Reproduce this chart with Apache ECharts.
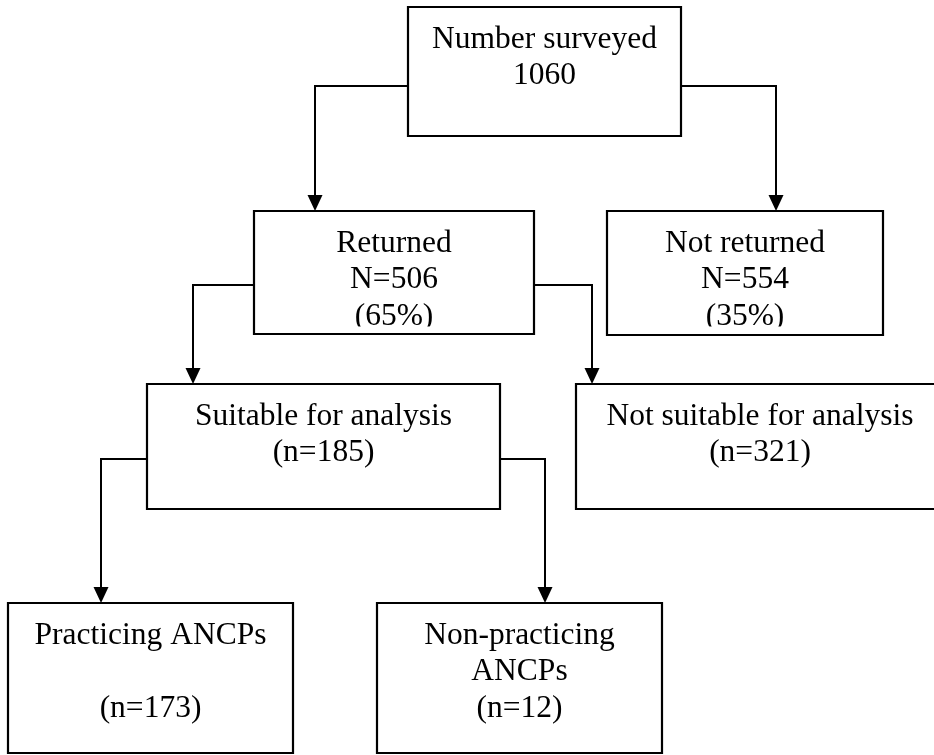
<!DOCTYPE html>
<html>
<head>
<meta charset="utf-8">
<script src="https://cdn.jsdelivr.net/npm/echarts@6/dist/echarts.min.js"></script>
<style>
html,body{margin:0;padding:0;background:#ffffff;}
#chart{width:934px;height:755px;}
</style>
</head>
<body>
<div id="chart"></div>
<script>
// ---- data ----
const stageNames = ['Number surveyed', 'Returned', 'Not returned', 'Suitable for analysis',
  'Not suitable for analysis', 'Practicing ANCPs', 'Non-practicing\nANCPs'];
const stageCounts = [1060, 506, 554, 185, 321, 173, 12];
const stagePercents = [null, 65, 35, null, null, null, null];
const countStyle = ['plain', 'N', 'N', 'n', 'n', 'n', 'n'];
const flowLinks = [[0, 1], [0, 2], [1, 3], [1, 4], [3, 5], [3, 6]];

// ---- layout (positions / sizes, separate from data) ----
const boxLayout = [
  [408, 7, 681, 136],
  [254, 211, 534, 334],
  [607, 211, 883, 335],
  [147, 384, 500, 509],
  [576, 384, 944, 509],
  [8, 603, 293, 753],
  [377, 603, 662, 753]
];
const blankLinesBeforeCount = [0, 0, 0, 0, 0, 1, 0];
const textClipY = [null, 326.5, 326.5, null, null, null, null];
// link route: [exit x, exit y, drop x]
const linkRoutes = [
  [408, 86, 315],
  [681, 86, 776],
  [254, 285, 193],
  [530, 285, 592],
  [147, 459, 101],
  [500, 459, 545]
];
const FONT_SIZE = 31.5;
const FIRST_BASELINE = 40.8;
const LINE_GAP = 36.6;
const FONT = FONT_SIZE + 'px "Liberation Serif", "Times New Roman", serif';

function stageLines(i) {
  const lines = stageNames[i].split('\n');
  for (let k = 0; k < blankLinesBeforeCount[i]; k++) lines.push('');
  const c = stageCounts[i];
  if (countStyle[i] === 'plain') lines.push(String(c));
  else if (countStyle[i] === 'N') lines.push('N=' + c);
  else lines.push('(n=' + c + ')');
  if (stagePercents[i] != null) lines.push('(' + stagePercents[i] + '%)');
  return lines;
}

const chart = echarts.init(document.getElementById('chart'), null, {renderer: 'canvas'});

const option = {
  animation: false,
  backgroundColor: '#ffffff',
  grid: {left: 0, right: 0, top: 0, bottom: 0},
  xAxis: {type: 'value', min: 0, max: 934, show: false},
  yAxis: {type: 'value', min: 0, max: 755, inverse: true, show: false},
  series: [
    {
      type: 'custom',
      name: 'links',
      coordinateSystem: 'cartesian2d',
      silent: true,
      clip: false,
      data: flowLinks.map((l, i) => [i, l[0], l[1]]),
      renderItem: function (params, api) {
        const i = api.value(0);
        const target = api.value(2);
        const r = linkRoutes[i];
        const top = boxLayout[target][1];
        const a = api.coord([r[0], r[1]]);
        const b = api.coord([r[2], r[1]]);
        const tip = api.coord([r[2], top]);
        const ah = 16, aw = 7.5;
        return {
          type: 'group',
          children: [
            {
              type: 'polyline',
              shape: {points: [a, b, [tip[0], tip[1] - ah + 1]]},
              style: {stroke: '#000', lineWidth: 2, fill: null}
            },
            {
              type: 'polygon',
              shape: {points: [[tip[0] - aw, tip[1] - ah], [tip[0] + aw, tip[1] - ah], [tip[0], tip[1]]]},
              style: {fill: '#000', stroke: null}
            }
          ]
        };
      }
    },
    {
      type: 'custom',
      name: 'stages',
      coordinateSystem: 'cartesian2d',
      silent: true,
      clip: false,
      data: stageNames.map((n, i) => [i, stageCounts[i]]),
      renderItem: function (params, api) {
        const i = api.value(0);
        const b = boxLayout[i];
        const p0 = api.coord([b[0], b[1]]);
        const p1 = api.coord([b[2], b[3]]);
        const cx = (p0[0] + p1[0]) / 2;
        const children = [];
        children.push({
          type: 'rect',
          shape: {x: p0[0], y: p0[1], width: p1[0] - p0[0], height: p1[1] - p0[1]},
          style: {fill: '#fff', stroke: null}
        });
        stageLines(i).forEach(function (t, k) {
          const base = api.coord([0, b[1] + FIRST_BASELINE + k * LINE_GAP])[1];
          children.push({
            type: 'text',
            style: {
              text: t, x: cx, y: base - FONT_SIZE * 0.27,
              font: FONT, fill: '#000', align: 'center', verticalAlign: 'middle'
            }
          });
        });
        if (textClipY[i] != null) {
          const cy = api.coord([0, textClipY[i]])[1];
          children.push({
            type: 'rect',
            shape: {x: p0[0] + 1, y: cy, width: p1[0] - p0[0] - 2, height: p1[1] - cy},
            style: {fill: '#fff', stroke: null}
          });
        }
        children.push({
          type: 'rect',
          shape: {x: p0[0], y: p0[1], width: p1[0] - p0[0], height: p1[1] - p0[1]},
          style: {fill: null, stroke: '#000', lineWidth: 2.2}
        });
        return {type: 'group', children: children};
      }
    }
  ]
};
chart.setOption(option);
</script>
</body>
</html>
